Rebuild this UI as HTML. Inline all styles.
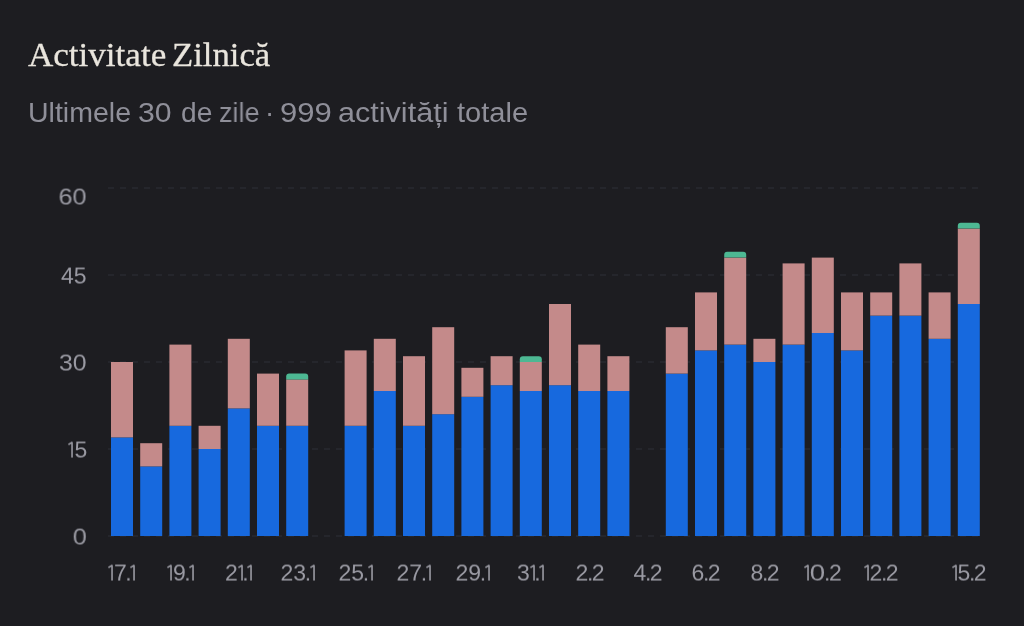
<!DOCTYPE html>
<html><head><meta charset="utf-8">
<style>
html,body{margin:0;padding:0;}
body{width:1024px;height:626px;background:#1d1d21;position:relative;overflow:hidden;font-family:"Liberation Sans",sans-serif;}
.title{position:absolute;transform-origin:left center;top:34px;font-family:"Liberation Serif",serif;font-size:34.5px;color:#e9e5dd;white-space:nowrap;line-height:40px;-webkit-text-stroke:0.3px #e9e5dd;}
.sub{position:absolute;transform-origin:left center;top:97px;font-size:27.7px;color:#8f8f99;white-space:nowrap;line-height:32px;}
.yl{position:absolute;display:flex;align-items:center;height:30px;transform-origin:right center;font-size:23px;color:#9a9aa3;line-height:30px;text-align:right;white-space:nowrap;}
.xl{position:absolute;top:557.5px;width:80px;height:30px;display:flex;justify-content:center;align-items:center;font-size:23px;color:#9a9aa3;line-height:30px;white-space:nowrap;}
.xl span{display:inline-block;}
.xl .dot{margin:0 -1.6px 0 -1.4px;}
.xl .z{transform:scaleX(1.2);margin:0 1.2px;}
.one{display:block;margin-top:-1px;margin-right:0.8px;}
.yl .one{margin-right:1.3px;}
svg.chart{position:absolute;left:0;top:0;}
.title,.sub,.yl,.xl{will-change:transform;}
</style></head><body>
<div class="title" style="left:27.7px;transform:scaleX(1.016)">Activitate</div><div class="title" style="left:172.4px;transform:scaleX(1.005)">Zilnică</div>
<div class="sub" style="left:27.6px;transform:scaleX(1.03)">Ultimele</div><div class="sub" style="left:138.1px;transform:scaleX(1.09)">30</div><div class="sub" style="left:180.5px;transform:scaleX(1.017)">de</div><div class="sub" style="left:218.7px;transform:scaleX(0.975)">zile</div><div class="sub" style="left:264.5px;transform:scaleX(1.0)">·</div><div class="sub" style="left:279.5px;transform:scaleX(1.12)">999</div><div class="sub" style="left:338.3px;transform:scaleX(1.104)">activități</div><div class="sub" style="left:456.6px;transform:scaleX(1.049)">totale</div>
<svg class="chart" width="1024" height="626" viewBox="0 0 1024 626">
<line x1="108" y1="536.0" x2="984" y2="536.0" stroke="#2f3039" stroke-width="1" stroke-dasharray="6 6"/>
<line x1="108" y1="449.0" x2="984" y2="449.0" stroke="#2f3039" stroke-width="1" stroke-dasharray="6 6"/>
<line x1="108" y1="362.0" x2="984" y2="362.0" stroke="#2f3039" stroke-width="1" stroke-dasharray="6 6"/>
<line x1="108" y1="275.0" x2="984" y2="275.0" stroke="#2f3039" stroke-width="1" stroke-dasharray="6 6"/>
<line x1="108" y1="188.0" x2="984" y2="188.0" stroke="#2f3039" stroke-width="1" stroke-dasharray="6 6"/>
<rect x="111.00" y="437.40" width="22.0" height="98.60" fill="#1769de"/>
<rect x="111.00" y="362.00" width="22.0" height="75.40" fill="#c48a8a"/>
<rect x="140.20" y="466.40" width="22.0" height="69.60" fill="#1769de"/>
<rect x="140.20" y="443.20" width="22.0" height="23.20" fill="#c48a8a"/>
<rect x="169.40" y="425.80" width="22.0" height="110.20" fill="#1769de"/>
<rect x="169.40" y="344.60" width="22.0" height="81.20" fill="#c48a8a"/>
<rect x="198.60" y="449.00" width="22.0" height="87.00" fill="#1769de"/>
<rect x="198.60" y="425.80" width="22.0" height="23.20" fill="#c48a8a"/>
<rect x="227.80" y="408.40" width="22.0" height="127.60" fill="#1769de"/>
<rect x="227.80" y="338.80" width="22.0" height="69.60" fill="#c48a8a"/>
<rect x="257.00" y="425.80" width="22.0" height="110.20" fill="#1769de"/>
<rect x="257.00" y="373.60" width="22.0" height="52.20" fill="#c48a8a"/>
<rect x="286.20" y="425.80" width="22.0" height="110.20" fill="#1769de"/>
<rect x="286.20" y="379.40" width="22.0" height="46.40" fill="#c48a8a"/>
<path d="M286.20,379.40 V376.60 Q286.20,373.60 289.20,373.60 H305.20 Q308.20,373.60 308.20,376.60 V379.40 Z" fill="#4db893"/>
<rect x="344.60" y="425.80" width="22.0" height="110.20" fill="#1769de"/>
<rect x="344.60" y="350.40" width="22.0" height="75.40" fill="#c48a8a"/>
<rect x="373.80" y="391.00" width="22.0" height="145.00" fill="#1769de"/>
<rect x="373.80" y="338.80" width="22.0" height="52.20" fill="#c48a8a"/>
<rect x="403.00" y="425.80" width="22.0" height="110.20" fill="#1769de"/>
<rect x="403.00" y="356.20" width="22.0" height="69.60" fill="#c48a8a"/>
<rect x="432.20" y="414.20" width="22.0" height="121.80" fill="#1769de"/>
<rect x="432.20" y="327.20" width="22.0" height="87.00" fill="#c48a8a"/>
<rect x="461.40" y="396.80" width="22.0" height="139.20" fill="#1769de"/>
<rect x="461.40" y="367.80" width="22.0" height="29.00" fill="#c48a8a"/>
<rect x="490.60" y="385.20" width="22.0" height="150.80" fill="#1769de"/>
<rect x="490.60" y="356.20" width="22.0" height="29.00" fill="#c48a8a"/>
<rect x="519.80" y="391.00" width="22.0" height="145.00" fill="#1769de"/>
<rect x="519.80" y="362.00" width="22.0" height="29.00" fill="#c48a8a"/>
<path d="M519.80,362.00 V359.20 Q519.80,356.20 522.80,356.20 H538.80 Q541.80,356.20 541.80,359.20 V362.00 Z" fill="#4db893"/>
<rect x="549.00" y="385.20" width="22.0" height="150.80" fill="#1769de"/>
<rect x="549.00" y="304.00" width="22.0" height="81.20" fill="#c48a8a"/>
<rect x="578.20" y="391.00" width="22.0" height="145.00" fill="#1769de"/>
<rect x="578.20" y="344.60" width="22.0" height="46.40" fill="#c48a8a"/>
<rect x="607.40" y="391.00" width="22.0" height="145.00" fill="#1769de"/>
<rect x="607.40" y="356.20" width="22.0" height="34.80" fill="#c48a8a"/>
<rect x="665.80" y="373.60" width="22.0" height="162.40" fill="#1769de"/>
<rect x="665.80" y="327.20" width="22.0" height="46.40" fill="#c48a8a"/>
<rect x="695.00" y="350.40" width="22.0" height="185.60" fill="#1769de"/>
<rect x="695.00" y="292.40" width="22.0" height="58.00" fill="#c48a8a"/>
<rect x="724.20" y="344.60" width="22.0" height="191.40" fill="#1769de"/>
<rect x="724.20" y="257.60" width="22.0" height="87.00" fill="#c48a8a"/>
<path d="M724.20,257.60 V254.80 Q724.20,251.80 727.20,251.80 H743.20 Q746.20,251.80 746.20,254.80 V257.60 Z" fill="#4db893"/>
<rect x="753.40" y="362.00" width="22.0" height="174.00" fill="#1769de"/>
<rect x="753.40" y="338.80" width="22.0" height="23.20" fill="#c48a8a"/>
<rect x="782.60" y="344.60" width="22.0" height="191.40" fill="#1769de"/>
<rect x="782.60" y="263.40" width="22.0" height="81.20" fill="#c48a8a"/>
<rect x="811.80" y="333.00" width="22.0" height="203.00" fill="#1769de"/>
<rect x="811.80" y="257.60" width="22.0" height="75.40" fill="#c48a8a"/>
<rect x="841.00" y="350.40" width="22.0" height="185.60" fill="#1769de"/>
<rect x="841.00" y="292.40" width="22.0" height="58.00" fill="#c48a8a"/>
<rect x="870.20" y="315.60" width="22.0" height="220.40" fill="#1769de"/>
<rect x="870.20" y="292.40" width="22.0" height="23.20" fill="#c48a8a"/>
<rect x="899.40" y="315.60" width="22.0" height="220.40" fill="#1769de"/>
<rect x="899.40" y="263.40" width="22.0" height="52.20" fill="#c48a8a"/>
<rect x="928.60" y="338.80" width="22.0" height="197.20" fill="#1769de"/>
<rect x="928.60" y="292.40" width="22.0" height="46.40" fill="#c48a8a"/>
<rect x="957.80" y="304.00" width="22.0" height="232.00" fill="#1769de"/>
<rect x="957.80" y="228.60" width="22.0" height="75.40" fill="#c48a8a"/>
<path d="M957.80,228.60 V225.80 Q957.80,222.80 960.80,222.80 H976.80 Q979.80,222.80 979.80,225.80 V228.60 Z" fill="#4db893"/>
</svg>
<div class="yl" style="top:181.8px;right:937.1px;transform:scale(1.1,0.94)"><span>6</span><span>0</span></div>
<div class="yl" style="top:260.7px;right:937.0px;transform:scale(1.0,0.94)"><span>4</span><span>5</span></div>
<div class="yl" style="top:347.8px;right:937.1px;transform:scale(1.08,0.94)"><span>3</span><span>0</span></div>
<div class="yl" style="top:434.7px;right:936.5px;transform:scale(1.0,0.94)"><svg class="one" width="5.2" height="17" viewBox="0 0 5.2 17"><path d="M4.05,0.4 V17 M4.4,0.6 L0.4,3.2" stroke="#9a9aa3" stroke-width="1.6" fill="none"/></svg><span>5</span></div>
<div class="yl" style="top:521.8px;right:937.3px;transform:scale(1.1,0.94)"><span>0</span></div>
<div class="xl" style="left:81.8px;transform:scaleY(0.94)"><svg class="one" width="5.2" height="17" viewBox="0 0 5.2 17"><path d="M4.05,0.4 V17 M4.4,0.6 L0.4,3.2" stroke="#9a9aa3" stroke-width="1.6" fill="none"/></svg><span>7</span><span class="dot">.</span><svg class="one" width="5.2" height="17" viewBox="0 0 5.2 17"><path d="M4.05,0.4 V17 M4.4,0.6 L0.4,3.2" stroke="#9a9aa3" stroke-width="1.6" fill="none"/></svg></div>
<div class="xl" style="left:140.8px;transform:scaleY(0.94)"><svg class="one" width="5.2" height="17" viewBox="0 0 5.2 17"><path d="M4.05,0.4 V17 M4.4,0.6 L0.4,3.2" stroke="#9a9aa3" stroke-width="1.6" fill="none"/></svg><span>9</span><span class="dot">.</span><svg class="one" width="5.2" height="17" viewBox="0 0 5.2 17"><path d="M4.05,0.4 V17 M4.4,0.6 L0.4,3.2" stroke="#9a9aa3" stroke-width="1.6" fill="none"/></svg></div>
<div class="xl" style="left:199.3px;transform:scaleY(0.94)"><span>2</span><svg class="one" width="5.2" height="17" viewBox="0 0 5.2 17"><path d="M4.05,0.4 V17 M4.4,0.6 L0.4,3.2" stroke="#9a9aa3" stroke-width="1.6" fill="none"/></svg><span class="dot">.</span><svg class="one" width="5.2" height="17" viewBox="0 0 5.2 17"><path d="M4.05,0.4 V17 M4.4,0.6 L0.4,3.2" stroke="#9a9aa3" stroke-width="1.6" fill="none"/></svg></div>
<div class="xl" style="left:257.6px;transform:scaleY(0.94)"><span>2</span><span>3</span><span class="dot">.</span><svg class="one" width="5.2" height="17" viewBox="0 0 5.2 17"><path d="M4.05,0.4 V17 M4.4,0.6 L0.4,3.2" stroke="#9a9aa3" stroke-width="1.6" fill="none"/></svg></div>
<div class="xl" style="left:316.3px;transform:scaleY(0.94)"><span>2</span><span>5</span><span class="dot">.</span><svg class="one" width="5.2" height="17" viewBox="0 0 5.2 17"><path d="M4.05,0.4 V17 M4.4,0.6 L0.4,3.2" stroke="#9a9aa3" stroke-width="1.6" fill="none"/></svg></div>
<div class="xl" style="left:374.4px;transform:scaleY(0.94)"><span>2</span><span>7</span><span class="dot">.</span><svg class="one" width="5.2" height="17" viewBox="0 0 5.2 17"><path d="M4.05,0.4 V17 M4.4,0.6 L0.4,3.2" stroke="#9a9aa3" stroke-width="1.6" fill="none"/></svg></div>
<div class="xl" style="left:433.2px;transform:scaleY(0.94)"><span>2</span><span>9</span><span class="dot">.</span><svg class="one" width="5.2" height="17" viewBox="0 0 5.2 17"><path d="M4.05,0.4 V17 M4.4,0.6 L0.4,3.2" stroke="#9a9aa3" stroke-width="1.6" fill="none"/></svg></div>
<div class="xl" style="left:491.2px;transform:scaleY(0.94)"><span>3</span><svg class="one" width="5.2" height="17" viewBox="0 0 5.2 17"><path d="M4.05,0.4 V17 M4.4,0.6 L0.4,3.2" stroke="#9a9aa3" stroke-width="1.6" fill="none"/></svg><span class="dot">.</span><svg class="one" width="5.2" height="17" viewBox="0 0 5.2 17"><path d="M4.05,0.4 V17 M4.4,0.6 L0.4,3.2" stroke="#9a9aa3" stroke-width="1.6" fill="none"/></svg></div>
<div class="xl" style="left:549.5px;transform:scaleY(0.94)"><span>2</span><span class="dot">.</span><span>2</span></div>
<div class="xl" style="left:607.8px;transform:scaleY(0.94)"><span>4</span><span class="dot">.</span><span>2</span></div>
<div class="xl" style="left:666.3px;transform:scaleY(0.94)"><span>6</span><span class="dot">.</span><span>2</span></div>
<div class="xl" style="left:724.8px;transform:scaleY(0.94)"><span>8</span><span class="dot">.</span><span>2</span></div>
<div class="xl" style="left:783.0px;transform:scaleY(0.94)"><svg class="one" width="5.2" height="17" viewBox="0 0 5.2 17"><path d="M4.05,0.4 V17 M4.4,0.6 L0.4,3.2" stroke="#9a9aa3" stroke-width="1.6" fill="none"/></svg><span class="z">0</span><span class="dot">.</span><span>2</span></div>
<div class="xl" style="left:841.4px;transform:scaleY(0.94)"><svg class="one" width="5.2" height="17" viewBox="0 0 5.2 17"><path d="M4.05,0.4 V17 M4.4,0.6 L0.4,3.2" stroke="#9a9aa3" stroke-width="1.6" fill="none"/></svg><span>2</span><span class="dot">.</span><span>2</span></div>
<div class="xl" style="left:928.5px;transform:scaleY(0.94)"><svg class="one" width="5.2" height="17" viewBox="0 0 5.2 17"><path d="M4.05,0.4 V17 M4.4,0.6 L0.4,3.2" stroke="#9a9aa3" stroke-width="1.6" fill="none"/></svg><span>5</span><span class="dot">.</span><span>2</span></div>
</body></html>
